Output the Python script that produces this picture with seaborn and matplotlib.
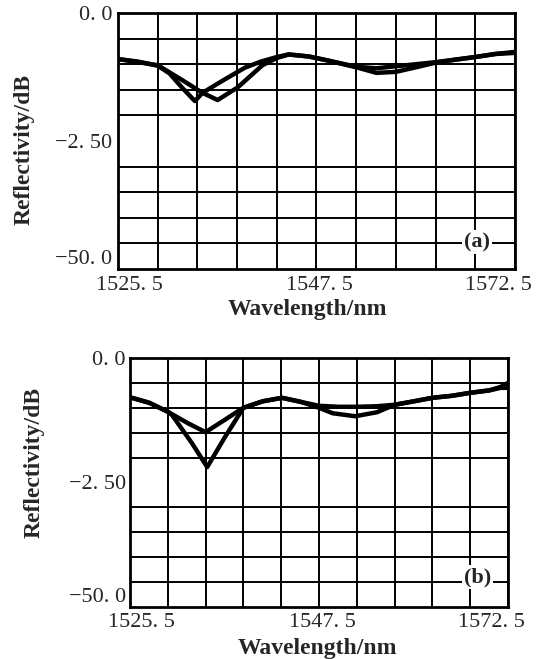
import matplotlib
matplotlib.use("Agg")
import matplotlib.pyplot as plt
import seaborn as sns
import numpy as np

# wavelength (nm) and reflectivity (dB)
a1_wl = [1525.5, 1527.9, 1530.2, 1531.6, 1533.1, 1534.6, 1535.5, 1537.7, 1540.5, 1542.4, 1544.3,
         1545.7, 1548.1, 1550.4, 1553.7, 1556.1, 1558.4, 1560.8, 1563.1, 1565.5, 1567.8, 1570.2, 1572.5]
a1_db = [-9.0, -9.5, -10.3, -11.8, -14.6, -17.2, -15.6, -13.4, -10.7, -9.5, -8.6,
         -8.1, -8.5, -9.3, -10.5, -10.8, -10.4, -10.0, -9.6, -9.1, -8.6, -8.0, -7.6]

a2_wl = [1525.5, 1527.9, 1530.2, 1533.1, 1535.5, 1537.3, 1539.7, 1542.6, 1544.3, 1545.7, 1548.1,
         1550.4, 1553.7, 1556.1, 1558.4, 1560.8, 1563.1, 1565.5, 1567.8, 1570.2, 1572.5]
a2_db = [-9.0, -9.6, -10.2, -13.1, -15.6, -17.0, -14.5, -10.2, -8.8, -8.1, -8.5,
         -9.3, -10.6, -11.7, -11.5, -10.6, -9.7, -9.1, -8.6, -8.0, -7.8]

b1_wl = [1525.5, 1527.9, 1530.2, 1532.7, 1534.9, 1537.3, 1539.6, 1542.0, 1544.4, 1546.7, 1549.0,
         1551.4, 1553.7, 1556.1, 1558.4, 1560.8, 1563.1, 1565.5, 1567.8, 1570.2, 1571.6, 1572.5]
b1_db = [-7.9, -9.0, -10.8, -13.1, -14.9, -12.4, -10.0, -8.7, -8.0, -8.8, -9.6,
         -9.8, -9.8, -9.7, -9.4, -8.7, -8.0, -7.6, -7.0, -6.5, -5.8, -5.0]

b2_wl = [1525.5, 1527.9, 1530.2, 1530.7, 1533.2, 1535.1, 1537.3, 1539.6, 1542.0, 1544.4, 1546.7,
         1549.0, 1550.7, 1553.5, 1556.2, 1558.4, 1560.8, 1563.1, 1565.5, 1567.8, 1570.2, 1571.6, 1572.5]
b2_db = [-7.9, -9.0, -10.8, -11.4, -17.1, -21.9, -15.9, -10.0, -8.7, -8.0, -8.8,
         -10.0, -11.1, -11.7, -10.9, -9.4, -8.7, -8.0, -7.6, -7.0, -6.5, -6.0, -6.0]

x_tick_labels = ["1525. 5", "1547. 5", "1572. 5"]
y_tick_labels = ["0. 0", "\u22122. 50", "\u221250. 0"]
panel_tags = ["(a)", "(b)"]

sns.set_style("white")
plt.rcParams['font.family'] = ['Liberation Serif', 'DejaVu Serif']

fig = plt.figure(figsize=(5.46, 6.59), dpi=100)
ax_a = fig.add_axes([0.2161, 0.5918, 0.7271, 0.3885])
ax_b = fig.add_axes([0.2381, 0.0789, 0.6923, 0.3779])

panels = [
    (ax_a, [(a1_wl, a1_db), (a2_wl, a2_db)], 5, 4, (-0.237, 0.465), (0.476, -0.16), (0.904, 0.105)),
    (ax_b, [(b1_wl, b1_db), (b2_wl, b2_db)], 4, 3, (-0.254, 0.582), (0.497, -0.165), (0.92, 0.12)),
]

for i, (ax, curves, xpad, ypad, ylab_pos, xlab_pos, tag_pos) in enumerate(panels):
    for wl, db in curves:
        sns.lineplot(x=wl, y=db, ax=ax, color='black', lw=3.2, zorder=3)

    ax.set_xlim(1525.5, 1572.5)
    ax.set_ylim(-50, 0)
    ax.set_xticks(np.linspace(1525.5, 1572.5, 11), minor=True)
    ax.set_yticks(np.arange(-50, 1, 5), minor=True)
    ax.grid(False, which='major')
    ax.grid(True, which='minor', color='black', linewidth=1.4)
    ax.set_axisbelow(True)

    ax.set_xticks([1526.9, 1549.4, 1570.5])
    ax.set_xticklabels(x_tick_labels, fontsize=16)
    ax.set_yticks([0, -25, -50])
    ax.set_yticklabels(y_tick_labels, fontsize=16)
    ax.tick_params(which='both', length=0)
    ax.tick_params(axis='x', pad=xpad)
    ax.tick_params(axis='y', pad=ypad)
    # bottom y label sits just above the lower frame, as in the scan
    ax.get_yticklabels()[-1].set_va('bottom')

    for sp in ax.spines.values():
        sp.set_color('black')
        sp.set_linewidth(2)

    ax.set_ylabel("Reflectivity/dB", fontsize=17, fontweight='bold')
    ax.set_xlabel("Wavelength/nm", fontsize=17, fontweight='bold')
    ax.yaxis.set_label_coords(*ylab_pos)
    ax.xaxis.set_label_coords(*xlab_pos)
    ax.yaxis.label.set_va('center')
    ax.xaxis.label.set_va('center')

    ax.text(tag_pos[0], tag_pos[1], panel_tags[i], transform=ax.transAxes, ha='center', va='center',
            fontsize=16, fontweight='bold', zorder=4,
            bbox=dict(facecolor='white', edgecolor='none', pad=1.5))

fig.savefig("out.png", dpi=100)
